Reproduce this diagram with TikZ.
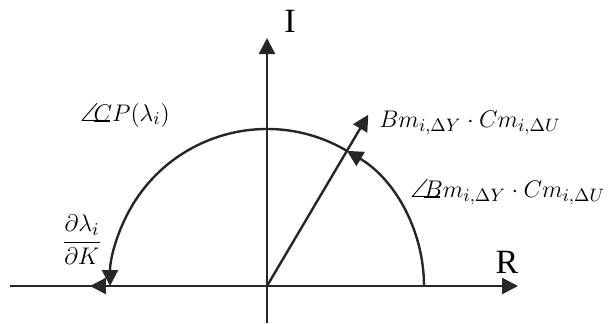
\documentclass[tikz,border=0pt]{standalone}
\usepackage{amsmath}
\usepackage{amssymb}
\usepackage{fontspec}
\setmainfont{Liberation Serif}
\usetikzlibrary{arrows.meta, positioning, calc}
\tikzset{
  ax/.style={line width=1.2pt,draw=black!85},
  ar/.style={line width=1.2pt,draw=black!85,-{Triangle[length=8pt,width=8pt]}},
  lbl/.style={inner sep=0pt,font=\fontsize{13}{15}\selectfont},
  axl/.style={inner sep=0pt,font=\fontsize{17}{19}\selectfont}
}
\newcommand{\phase}[1]{\angle\mkern-4mu\rlap{\rule[-0.02em]{0.62em}{0.06em}}#1}

\begin{document}
\begin{tikzpicture}[x=0.5pt,y=0.5pt]
\useasboundingbox (-267,-37) rectangle (344,286);
\coordinate (o) at (0,0);
\coordinate (xl) at (-257,0);
\coordinate (xr) at (251,0);
\coordinate (xm) at (-177,0);
\coordinate (yb) at (0,-37);
\coordinate (yt) at (0,248);
\coordinate (v) at (59.4:199);
% axes
\draw[ax] (xl) -- (o);
\draw[ar] (o) -- (xr);
\draw[ar] (o) -- (xm);
\draw[ar] (yb) -- (yt);
\node[axl] (lI) at (23,265) {I};
\node[axl] (lR) at (240,24) {R};
% vector and angles
\draw[ar] (o) -- (v);
\draw[ar] (157,0) arc[start angle=0,end angle=59.4,radius=157];
\draw[ar] (59.4:157) arc[start angle=59.4,end angle=180,radius=157];
\node[lbl,anchor=west] (vec) at (112,163) {$Bm_{i,\Delta Y}\cdot Cm_{i,\Delta U}$};
\node[lbl,anchor=west] (ang) at (143,94) {$\phase{B}m_{i,\Delta Y}\cdot Cm_{i,\Delta U}$};
\node[lbl] (cp) at (-142,171) {$\phase{C}P(\lambda_i)$};
\node[lbl] (dk) at (-185,46) {$\dfrac{\partial\lambda_i}{\partial K}$};
\end{tikzpicture}
\end{document}
